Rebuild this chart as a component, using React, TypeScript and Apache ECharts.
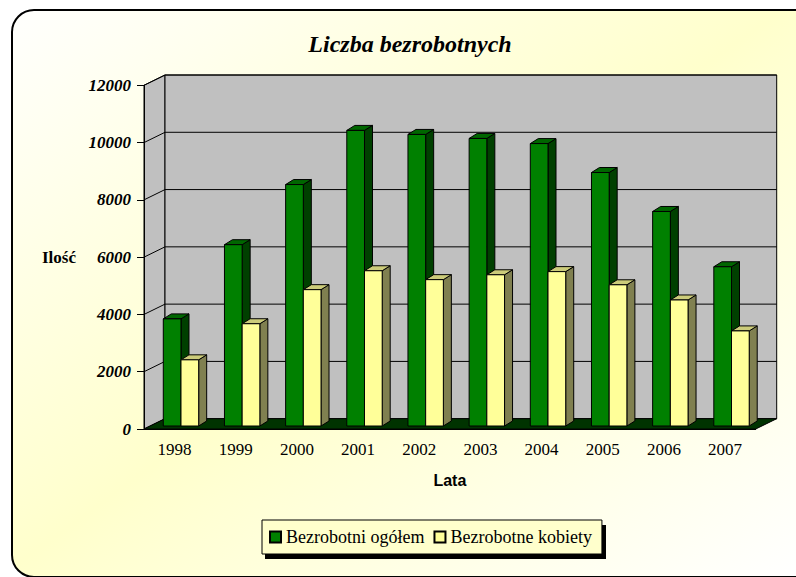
import React, { useEffect, useRef } from "react";
import * as echarts from "echarts";

const years = ["1998", "1999", "2000", "2001", "2002", "2003", "2004", "2005", "2006", "2007"];
const ogolem = [3740, 6330, 8430, 10320, 10180, 10040, 9860, 8850, 7490, 5560];
const kobiety = [2310, 3570, 4760, 5420, 5110, 5280, 5390, 4930, 4400, 3320];
const yTicks = [0, 2000, 4000, 6000, 8000, 10000, 12000];

const DX = 21;
const DY = -10.3;
const BAR_W = 17.7;
const BAR_LIFT = 3;
const DEPTH_X = 8;
const DEPTH_Y = -5;
const INK = "#000000";

function poly(points: number[][], fill: string) {
  return { type: "polygon", shape: { points }, style: { fill, stroke: INK, lineWidth: 1 } };
}

function barRenderer(start: number, front: string, top: string, side: string) {
  return (_p: any, api: any) => {
    const [cx, y0] = api.coord([api.value(0), 0]);
    const [, yv] = api.coord([api.value(0), api.value(1)]);
    const l = cx + start;
    const r = l + BAR_W;
    const b = y0 - BAR_LIFT;
    const t = yv - BAR_LIFT;
    return {
      type: "group",
      children: [
        poly([[r, t], [r + DEPTH_X, t + DEPTH_Y], [r + DEPTH_X, b + DEPTH_Y], [r, b]], side),
        poly([[l, t], [l + DEPTH_X, t + DEPTH_Y], [r + DEPTH_X, t + DEPTH_Y], [r, t]], top),
        poly([[l, t], [r, t], [r, b], [l, b]], front),
      ],
    };
  };
}

function wallRenderer(_p: any, api: any) {
  const v = api.value(1);
  const [x0, yv] = api.coord([0, v]);
  const xL = x0 - api.size([1, 0])[0] / 2;
  const xR = xL + api.size([1, 0])[0] * years.length;
  const [, y0] = api.coord([0, 0]);
  const [, yMax] = api.coord([0, 12000]);
  const children: any[] = [];
  if (v === 0) {
    children.push(poly([[xL, y0], [xL + DX, y0 + DY], [xL + DX, yMax + DY], [xL, yMax]], "#C0C0C0"));
    children.push(poly([[xL + DX, y0 + DY], [xR + DX, y0 + DY], [xR + DX, yMax + DY], [xL + DX, yMax + DY]], "#C0C0C0"));
    children.push(poly([[xL, y0], [xL + DX, y0 + DY], [xR + DX, y0 + DY], [xR, y0]], "#003300"));
  } else {
    children.push({
      type: "polyline",
      shape: { points: [[xL, yv], [xL + DX, yv + DY], [xR + DX, yv + DY]] },
      style: { fill: "none", stroke: INK, lineWidth: 1 },
    });
  }
  return { type: "group", children };
}

export default function App() {
  const ref = useRef<HTMLDivElement>(null);
  useEffect(() => {
    document.body.style.margin = "0";
    const chart = echarts.init(ref.current!, undefined, { renderer: "svg" });
    chart.setOption({
      animation: false,
      textStyle: { fontFamily: "Liberation Serif", color: "#000" },
      title: {
        text: "Liczba bezrobotnych",
        left: 405,
        top: 27,
        textAlign: "center",
        textStyle: { fontFamily: "Liberation Serif", fontStyle: "italic", fontWeight: "bold", fontSize: 24, color: "#000" },
      },
      grid: { left: 144, top: 85.3, width: 611.7, height: 343.7 },
      xAxis: {
        type: "category",
        data: years,
        z: 5,
        name: "Lata",
        nameLocation: "middle",
        nameGap: 43,
        nameTextStyle: { fontFamily: "Liberation Sans", fontWeight: "bold", fontSize: 16, color: "#000" },
        axisLine: { lineStyle: { color: INK, width: 1 } },
        axisTick: { length: 6, lineStyle: { color: INK } },
        axisLabel: { fontFamily: "Liberation Serif", fontSize: 17, color: "#000", margin: 12 },
      },
      yAxis: {
        type: "value",
        min: 0,
        max: 12000,
        interval: 2000,
        z: 5,
        name: "Ilość",
        nameLocation: "middle",
        nameRotate: 0,
        nameGap: 68,
        nameTextStyle: { fontFamily: "Liberation Serif", fontWeight: "bold", fontSize: 17, color: "#000" },
        splitLine: { show: false },
        axisLine: { show: true, lineStyle: { color: INK, width: 1 } },
        axisTick: { show: true, length: 7, lineStyle: { color: INK } },
        axisLabel: {
          formatter: (v: number) => String(v),
          fontFamily: "Liberation Serif",
          fontStyle: "italic",
          fontWeight: "bold",
          fontSize: 17,
          color: "#000",
          margin: 13,
        },
      },
      legend: {
        left: 262,
        top: 520,
        orient: "horizontal",
        icon: "rect",
        data: ["Bezrobotni ogółem", "Bezrobotne kobiety"],
        backgroundColor: "#FFFFCC",
        borderColor: INK,
        borderWidth: 1,
        padding: [8, 10, 8, 7],
        itemWidth: 11,
        itemHeight: 11,
        itemGap: 9,
        textStyle: { fontFamily: "Liberation Serif", fontSize: 18, color: "#000" },
      },
      graphic: [
        {
          type: "rect",
          z: -1,
          shape: { x: 12, y: 10, width: 860, height: 567, r: 22 },
          style: {
            stroke: INK,
            lineWidth: 2,
            fill: new echarts.graphic.LinearGradient(124, -90, 672, 666, [
              { offset: 0, color: "#FFFFFF" },
              { offset: 0.5, color: "#FFFFCC" },
              { offset: 1, color: "#FFFFFF" },
            ], true),
          },
        },
        { type: "rect", z: 3, shape: { x: 265, y: 525, width: 341, height: 34 }, style: { fill: "#000" } },
      ],
      series: [
        { type: "custom", name: "Ściany", z: 1, clip: false, silent: true, renderItem: wallRenderer, encode: { x: 0, y: 1 },
          data: yTicks.map((v) => [0, v]) },
        { type: "custom", name: "Bezrobotni ogółem", z: 2, clip: false, itemStyle: { color: "#008000", borderColor: INK, borderWidth: 1 },
          renderItem: barRenderer(-11.3, "#008000", "#006600", "#004000"), encode: { x: 0, y: 1 },
          data: ogolem.map((v, i) => [i, v]) },
        { type: "custom", name: "Bezrobotne kobiety", z: 2, clip: false, itemStyle: { color: "#FFFF99", borderColor: INK, borderWidth: 1 },
          renderItem: barRenderer(6.4, "#FFFF99", "#CCCC7A", "#808050"), encode: { x: 0, y: 1 },
          data: kobiety.map((v, i) => [i, v]) },
      ],
    });
    return () => chart.dispose();
  }, []);
  return <div ref={ref} style={{ width: 796, height: 577 }} />;
}
